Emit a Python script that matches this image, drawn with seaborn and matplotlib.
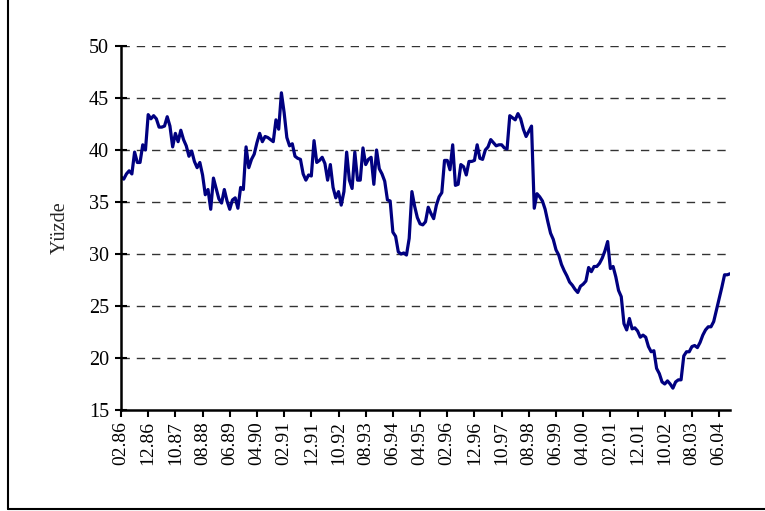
import matplotlib
matplotlib.use("Agg")
import matplotlib.pyplot as plt
import seaborn as sns
import pandas as pd
from matplotlib.lines import Line2D

# Monthly values, 02.86 .. 10.04
values = [
    37.4, 37.2, 37.7, 38.0, 37.7, 39.8, 38.8, 38.8, 40.5, 40.0,
    43.4, 43.0, 43.3, 43.0, 42.2, 42.2, 42.3, 43.2, 42.3, 40.3,
    41.6, 40.8, 41.9, 41.0, 40.4, 39.4, 39.9, 38.9, 38.3, 38.8,
    37.6, 35.7, 36.2, 34.3, 37.3, 36.3, 35.3, 34.9, 36.2, 35.1,
    34.3, 35.2, 35.4, 34.4, 36.4, 36.2, 40.3, 38.3, 39.1, 39.6,
    40.7, 41.6, 40.8, 41.3, 41.2, 41.0, 40.8, 42.9, 42.0, 45.5,
    43.6, 41.2, 40.4, 40.6, 39.4, 39.2, 39.1, 37.7, 37.1, 37.6,
    37.5, 40.9, 38.8, 39.0, 39.3, 38.7, 37.1, 38.6, 36.4, 35.4,
    36.0, 34.7, 36.0, 39.8, 37.1, 36.3, 39.8, 37.1, 37.1, 40.2,
    38.6, 39.1, 39.3, 36.7, 40.0, 38.2, 37.7, 37.0, 35.2, 35.1,
    32.1, 31.7, 30.2, 30.0, 30.1, 29.9, 31.5, 36.0, 34.6, 33.5,
    32.9, 32.8, 33.1, 34.5, 33.9, 33.4, 34.7, 35.5, 35.9, 39.0,
    39.0, 38.1, 40.5, 36.6, 36.7, 38.6, 38.4, 37.6, 38.9, 38.9,
    39.0, 40.5, 39.2, 39.1, 40.0, 40.3, 41.0, 40.7, 40.4, 40.5,
    40.5, 40.2, 40.1, 43.3, 43.1, 42.9, 43.5, 43.0, 42.0, 41.3,
    41.8, 42.3, 34.4, 35.8, 35.5, 35.1, 34.3, 33.1, 32.0, 31.4,
    30.4, 29.9, 29.0, 28.4, 27.9, 27.3, 27.0, 26.6, 26.3, 26.9,
    27.1, 27.4, 28.7, 28.3, 28.8, 28.8, 29.1, 29.6, 30.3, 31.2,
    28.6, 28.8, 27.8, 26.5, 25.9, 23.3, 22.7, 23.8, 22.8, 22.9,
    22.6, 22.0, 22.2, 22.0, 21.1, 20.6, 20.7, 19.0, 18.5, 17.7,
    17.5, 17.8, 17.5, 17.1, 17.7, 17.9, 17.9, 20.2, 20.6, 20.6,
    21.1, 21.2, 21.0, 21.5, 22.2, 22.7, 23.0, 23.0, 23.5, 24.6,
    25.7, 26.8, 28.0, 28.0, 28.1,
]

tick_labels = ["02.86", "12.86", "10.87", "08.88", "06.89", "04.90", "02.91",
               "12.91", "10.92", "08.93", "06.94", "04.95", "02.96", "12.96",
               "10.97", "08.98", "06.99", "04.00", "02.01", "12.01", "10.02",
               "08.03", "06.04"]
y_ticks = [15, 20, 25, 30, 35, 40, 45, 50]

df = pd.DataFrame({"t": range(len(values)), "v": values})

sns.set_theme(style="white")
plt.rcParams["font.family"] = ["Liberation Serif", "DejaVu Serif"]

fig = plt.figure(figsize=(7.65, 5.11), dpi=100)
ax = fig.add_axes([121 / 765, 1 - 410 / 511, (730 - 121) / 765, (410 - 46) / 511])

sns.lineplot(data=df, x="t", y="v", ax=ax, color="#000080", linewidth=2.3)

ax.set_xlim(0, len(values) - 1)
ax.set_ylim(15, 50)
ax.set_yticks(y_ticks)
ax.set_yticklabels([str(v) for v in y_ticks], fontsize=14.5)
ax.set_xticks(range(0, 10 * len(tick_labels), 10))
ax.set_xticklabels(tick_labels, rotation=90, fontsize=14)
ax.set_xlabel("")
ax.set_ylabel("Yüzde", fontsize=14.5, labelpad=14)

for y in y_ticks[1:]:
    ax.axhline(y, color="#333333", linewidth=1.0, dashes=(6, 5), zorder=0)

for s in ["top", "right"]:
    ax.spines[s].set_visible(False)
for s in ["left", "bottom"]:
    ax.spines[s].set_color("black")
    ax.spines[s].set_linewidth(1.8)

ax.tick_params(axis="y", direction="inout", length=9, width=1.5, color="black",
               left=True, pad=4, labelcolor="black")
ax.tick_params(axis="x", direction="out", length=5, width=1.5, color="black",
               bottom=True, pad=3, labelcolor="black")

# outer frame (left and bottom edges)
fig.add_artist(Line2D([8 / 765, 8 / 765], [1 - 509 / 511, 1.0], color="black",
                      linewidth=1.5, transform=fig.transFigure))
fig.add_artist(Line2D([8 / 765, 1.0], [1 - 509 / 511, 1 - 509 / 511], color="black",
                      linewidth=1.5, transform=fig.transFigure))

fig.savefig("out.png", dpi=100)
